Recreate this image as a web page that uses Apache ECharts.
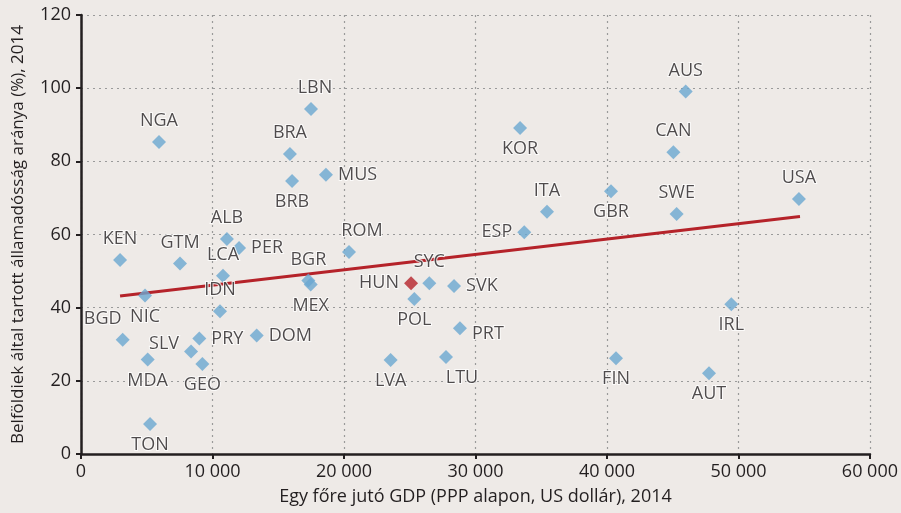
<!DOCTYPE html>
<html>
<head>
<meta charset="utf-8">
<script src="https://cdn.jsdelivr.net/npm/echarts@6/dist/echarts.min.js"></script>
<style>
  html, body { margin: 0; padding: 0; background: #eeeae7; }
  #chart { width: 901px; height: 513px; }
</style>
</head>
<body>
<div id="chart"></div>
<script>
// orszagkodok, GDP/fo (PPP, USD) es belfoldi tulajdonu adossag aranya (%)
let countries = ['NGA','LBN','BRA','BRB','MUS','ALB','PER','KEN','GTM','LCA','ROM','BGR','MEX','SYC','POL','NIC','IDN','BGD','SLV','PRY','GEO','MDA','TON','DOM','LVA','SVK','PRT','LTU','FIN','AUT','IRL','KOR','AUS','CAN','ITA','GBR','SWE','USA','ESP']
let gdp = [5930,17490,15890,16050,18630,11100,12020,2970,7530,10800,20380,17290,17470,26490,25350,4870,10570,3170,8370,9000,9230,5070,5250,13360,23550,28370,28820,27760,40690,47760,49460,33390,45990,45050,35440,40310,45300,54600,33710]
let debt = [85.3,94.3,82.0,74.6,76.3,58.8,56.3,53.0,52.1,48.7,55.2,47.4,46.3,46.7,42.4,43.3,39.0,31.2,28.0,31.6,24.6,25.8,8.2,32.4,25.7,45.9,34.4,26.5,26.2,22.1,40.9,89.1,99.1,82.5,66.2,71.8,65.6,69.7,60.6]
let hun = ['HUN', 25100, 46.7]
let trendX = [2970, 54680]
let trendY = [43.2, 64.9]
let xTicks = [0, 10000, 20000, 30000, 40000, 50000, 60000]
let yTicks = [0, 20, 40, 60, 80, 100, 120]

// cimkek helye
let labelPos = {
    MUS: ['right'], PER: ['right'], PRY: ['right'], DOM: ['right'], SVK: ['right'], PRT: ['right', [0, 6]],
    ESP: ['left'], SLV: ['left', [0, -8]],
    BRB: ['bottom'], MEX: ['bottom'], POL: ['bottom'], NIC: ['bottom'], GEO: ['bottom'], MDA: ['bottom'],
    TON: ['bottom'], LVA: ['bottom'], LTU: ['bottom', [16, 0]], FIN: ['bottom'], AUT: ['bottom'],
    IRL: ['bottom'], KOR: ['bottom'], GBR: ['bottom'],
    ROM: ['top', [13, 0]], BGD: ['top', [-20, 0]], LBN: ['top', [4, 0]]
}

let fontFam = '"Open Sans", "Noto Sans", sans-serif'
let txt = '#231f20'

let points = countries.map((c, i) => {
    let lp = labelPos[c] || ['top']
    return {
        name: c,
        value: [gdp[i], debt[i]],
        label: {position: lp[0], offset: lp[1] || [0, 0]}
    }
})

function fmt(v) {
    return String(v).replace(/\B(?=(\d{3})+(?!\d))/g, ' ')
}

let pointLabel = {
    show: true,
    formatter: '{b}',
    fontSize: 18,
    color: txt,
    textBorderColor: '#ffffff',
    textBorderWidth: 2,
    distance: 5
}

let chart = echarts.init(document.getElementById('chart'))
chart.setOption({
    backgroundColor: '#eeeae7',
    animation: false,
    textStyle: {fontFamily: fontFam},
    grid: {left: 81, right: 31, top: 15, bottom: 59},
    xAxis: {
        type: 'value',
        min: xTicks[0],
        max: xTicks[xTicks.length - 1],
        interval: 10000,
        name: 'Egy főre jutó GDP (PPP alapon, US dollár), 2014',
        nameLocation: 'middle',
        nameGap: 34,
        nameTextStyle: {fontSize: 18, color: txt, fontFamily: fontFam},
        axisLine: {lineStyle: {color: txt, width: 2.5}},
        axisTick: {show: true, length: 5, lineStyle: {color: txt, width: 2}},
        axisLabel: {fontSize: 18, color: txt, margin: 9, formatter: fmt},
        splitLine: {show: true, lineStyle: {color: '#9a9a9a', type: [2, 4], width: 1.2}}
    },
    yAxis: {
        type: 'value',
        min: yTicks[0],
        max: yTicks[yTicks.length - 1],
        interval: 20,
        name: 'Belföldiek által tartott államadósság aránya (%), 2014',
        nameLocation: 'middle',
        nameGap: 54,
        nameTextStyle: {fontSize: 17, color: txt, fontFamily: fontFam},
        axisLine: {show: true, lineStyle: {color: txt, width: 2.5}},
        axisTick: {show: true, length: 5, lineStyle: {color: txt, width: 2}},
        axisLabel: {fontSize: 18, color: txt, margin: 10},
        splitLine: {show: true, lineStyle: {color: '#9a9a9a', type: [2, 4], width: 1.2}}
    },
    series: [
        {
            type: 'line',
            data: trendX.map((x, i) => [x, trendY[i]]),
            symbol: 'none',
            lineStyle: {color: '#b5232a', width: 3},
            z: 1
        },
        {
            type: 'scatter',
            symbol: 'diamond',
            symbolSize: 14,
            itemStyle: {color: '#6aa8d1'},
            data: points,
            label: pointLabel,
            z: 3
        },
        {
            type: 'scatter',
            symbol: 'diamond',
            symbolSize: 14,
            itemStyle: {color: '#b5232a'},
            data: [{name: hun[0], value: [hun[1], hun[2]]}],
            label: Object.assign({}, pointLabel, {position: 'left'}),
            z: 4
        }
    ]
})
</script>
</body>
</html>
